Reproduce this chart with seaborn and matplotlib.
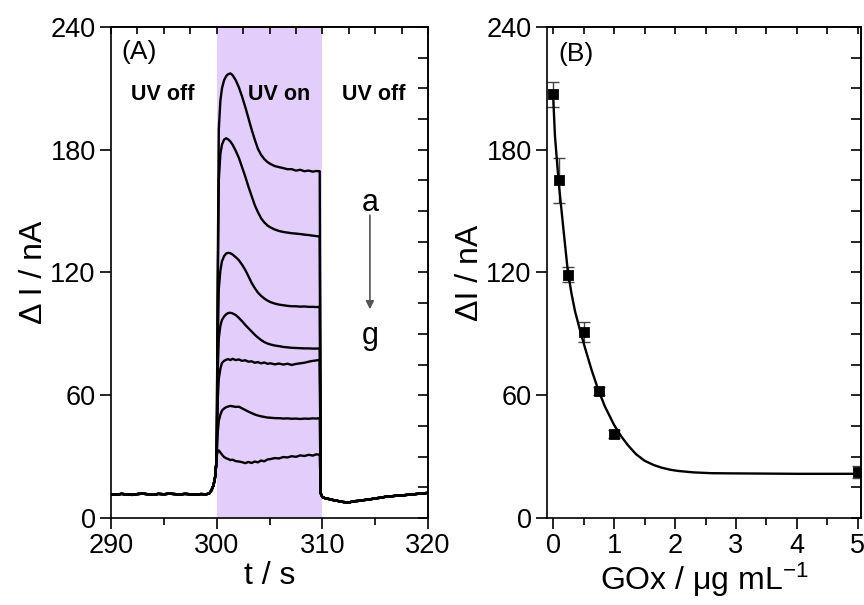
import matplotlib
matplotlib.use("Agg")
import matplotlib.pyplot as plt
from matplotlib.ticker import MultipleLocator, FixedLocator
import numpy as np
import pandas as pd
import seaborn as sns

# ---------------- data ----------------
curve_labels = ["a", "b", "c", "d", "e", "f", "g"]

# shared baseline before illumination
t_pre = [290, 290.5, 291, 291.5, 292, 292.5, 293, 293.5, 294, 294.5, 295, 295.5,
         296, 296.5, 297, 297.5, 298, 298.5, 299, 299.3, 299.5, 299.7, 299.85, 299.95]
i_pre = [11.6, 11.4, 11.8, 11.5, 11.3, 11.7, 11.9, 11.6, 11.4, 11.8, 11.6, 11.9,
         11.7, 11.5, 11.8, 11.6, 11.4, 11.7, 11.6, 12.0, 13.5, 16.0, 20.0, 26.0]

# UV on segment
t_on = [300.0, 300.1, 300.2, 300.35, 300.5, 300.7, 300.9, 301.1, 301.3, 301.5, 301.8,
        302.1, 302.4, 302.7, 303.0, 303.3, 303.6, 303.9, 304.2, 304.5, 304.8, 305.1,
        305.5, 305.9, 306.3, 306.7, 307.1, 307.5, 307.9, 308.3, 308.7, 309.1, 309.4, 309.75]
i_a = [35, 120, 190, 204, 210, 214, 216, 217, 217.3, 216.5, 214, 210.5, 206, 201, 195.5,
       190, 185, 180.5, 177.5, 175.5, 174, 173, 172, 171.5, 171, 170.5, 170.5, 169.8,
       170.2, 169.5, 169.8, 169.3, 169.6, 169.5]
i_b = [35, 110, 165, 178, 182.5, 185, 185.6, 185, 184, 182.5, 179.5, 176, 171.5, 167, 162,
       157.5, 153, 149.5, 146.5, 144.5, 143, 142, 141, 140.3, 139.8, 139.5, 139.2, 139,
       138.8, 138.5, 138.3, 138, 137.8, 137.6]
i_c = [33, 85, 112, 121, 125.5, 128, 129.3, 129.6, 129.4, 128.8, 127.5, 126, 123.8, 121.3,
       118.2, 115, 112.4, 110.2, 108.6, 107.3, 106.3, 105.5, 104.8, 104.3, 104, 103.7,
       103.5, 103.5, 103.3, 103.4, 103.2, 103.2, 103.1, 103.2]
i_d = [32, 72, 88, 94, 96.8, 98.5, 99.6, 100.2, 100.3, 100, 99.2, 97.8, 96.2, 94.4, 92.8,
       91.2, 89.6, 88.2, 87, 86, 85.3, 84.8, 84.3, 84, 83.6, 83.4, 83.2, 83.1, 83, 82.9,
       82.9, 82.8, 82.8, 82.9]
i_e = [31, 58, 68, 73, 75.8, 76.8, 77.4, 77.6, 77.2, 77.8, 77.2, 77.5, 76.8, 77.1, 76.4,
       76.6, 75.9, 76.2, 75.6, 76, 75.4, 75.6, 75.1, 75.5, 75.0, 75.4, 74.8, 75.3, 75.6,
       75.9, 76.4, 76.8, 77.0, 77.3]
i_f = [30, 42, 47.5, 50.5, 52.5, 53.5, 54.2, 54.5, 54.8, 54.6, 54.3, 54.4, 53.6, 52.8, 52,
       51.3, 50.6, 50.1, 49.7, 49.4, 49.1, 49, 48.8, 48.8, 48.6, 48.7, 48.5, 48.6, 48.4,
       48.6, 48.5, 48.7, 48.6, 48.8]
i_g = [30, 33, 33, 32, 31, 29.8, 29.2, 28.8, 28.3, 28.5, 27.8, 27.6, 27.3, 26.8, 27.4,
       26.9, 27.6, 27.2, 28.1, 27.7, 28.6, 28.8, 29.3, 29.1, 29.8, 29.6, 30.2, 29.9, 30.6,
       30.3, 30.9, 30.5, 31.1, 31.0]

# shared baseline after illumination
t_post = [309.85, 310.0, 310.3, 310.7, 311.0, 311.5, 312.0, 312.5, 313.0, 313.5, 314.0,
          314.5, 315.0, 315.5, 316.0, 316.5, 317.0, 317.5, 318.0, 318.5, 319.0, 319.5, 320.0]
i_post = [12.0, 10.2, 9.6, 9.2, 8.8, 8.3, 7.8, 7.6, 8.2, 8.4, 8.8, 9.1, 9.6, 9.9, 10.4,
          10.6, 10.9, 11.0, 11.3, 11.5, 11.8, 12.0, 12.3]

# panel B: points with error bars
gox = [0.0, 0.1, 0.25, 0.5, 0.75, 1.0, 5.0]
dI = [207, 165, 119, 91, 62, 41, 22.5]
dI_err = [6, 11, 3.5, 5, 2, 2, 3]

# fitted curve
fit_x = [0.0, 0.03, 0.09, 0.17, 0.24, 0.30, 0.36, 0.44, 0.52, 0.63, 0.74, 0.85, 1.0,
         1.12, 1.23, 1.36, 1.5, 1.65, 1.78, 1.92, 2.05, 2.3, 2.6, 3.0, 3.5, 4.0, 4.5, 5.0]
fit_y = [207, 187, 164.5, 141, 121, 110, 101, 92, 83.5, 72.5, 62.7, 54.5, 45.5,
         39.8, 35.5, 31.2, 28.0, 25.9, 24.6, 23.6, 23.0, 22.3, 21.9, 21.8, 21.7, 21.6,
         21.6, 21.6]

# ---------------- styling ----------------
sns.set_theme(style="ticks")
plt.rcParams["font.family"] = ["Liberation Sans", "DejaVu Sans"]
plt.rcParams["mathtext.fontset"] = "custom"
plt.rcParams["mathtext.rm"] = "Liberation Sans"
plt.rcParams["mathtext.it"] = "Liberation Sans:italic"
plt.rcParams["mathtext.bf"] = "Liberation Sans:bold"
plt.rcParams["axes.linewidth"] = 1.2
plt.rcParams["axes.edgecolor"] = "black"
plt.rcParams["text.color"] = "black"
plt.rcParams["axes.labelcolor"] = "black"
plt.rcParams["xtick.color"] = "black"
plt.rcParams["ytick.color"] = "black"

fig = plt.figure(figsize=(8.64, 6.05), dpi=100)
axA = fig.add_axes([0.1285, 0.1438, 0.3669, 0.8116])
axB = fig.add_axes([0.6331, 0.1438, 0.3634, 0.8116])

# ---------------- panel A ----------------
rows = []
on_vals = [i_a, i_b, i_c, i_d, i_e, i_f, i_g]
for lab, vals in zip(curve_labels, on_vals):
    ts = t_pre + t_on + t_post
    vs = i_pre + vals + i_post
    for t, v in zip(ts, vs):
        rows.append({"curve": lab, "t": t, "I": v})
dfA = pd.DataFrame(rows)

axA.axvspan(300, 310, color="#e3cdfa", lw=0, zorder=0)
sns.lineplot(data=dfA, x="t", y="I", units="curve", estimator=None, sort=False,
             color="black", lw=1.7, ax=axA, legend=False)

axA.set_xlim(290, 320)
axA.set_ylim(0, 240)
axA.set_xticks([290, 300, 310, 320])
axA.xaxis.set_minor_locator(MultipleLocator(5))
axA.set_yticks([0, 60, 120, 180, 240])
axA.tick_params(axis="both", which="major", direction="out", length=8, width=1.2,
                labelsize=19.5, colors="black", pad=3)
axA.tick_params(axis="x", which="minor", direction="out", length=5, width=1.2)
axA.set_xlabel("t / s", fontsize=23, labelpad=1)
axA.set_ylabel("Δ I / nA", fontsize=23, labelpad=1)

topA = axA.secondary_xaxis("top")
topA.xaxis.set_major_locator(FixedLocator(list(np.arange(290, 320.1, 2.5))))
topA.tick_params(direction="in", length=5, width=1.2, labeltop=False)
rightA = axA.secondary_yaxis("right")
rightA.yaxis.set_major_locator(FixedLocator(list(range(0, 241, 15))))
rightA.tick_params(direction="in", length=7, width=1.2, labelright=False)

axA.text(291.0, 228, "(A)", fontsize=19, ha="left", va="center")
axA.text(294.9, 207, "UV off", fontsize=15.5, fontweight="bold", ha="center", va="center")
axA.text(305.9, 207, "UV on", fontsize=15.5, fontweight="bold", ha="center", va="center")
axA.text(314.9, 207, "UV off", fontsize=15.5, fontweight="bold", ha="center", va="center")
axA.text(314.5, 154, "a", fontsize=22, ha="center", va="center")
axA.text(314.5, 89, "g", fontsize=22, ha="center", va="center")
axA.annotate("", xy=(314.5, 102), xytext=(314.5, 148),
             arrowprops=dict(arrowstyle="-|>", color="#555555", lw=1.2,
                             mutation_scale=12, shrinkA=0, shrinkB=0))

# ---------------- panel B ----------------
axB.errorbar(gox, dI, yerr=dI_err, fmt="none", ecolor="#444444", elinewidth=1.0,
             capsize=4, capthick=1.0, zorder=2)
sns.lineplot(x=fit_x, y=fit_y, color="black", lw=1.7, ax=axB, zorder=3)
sns.scatterplot(x=gox, y=dI, marker="s", s=50, color="black", edgecolor="black",
                ax=axB, zorder=4)

axB.set_xlim(-0.1, 5.05)
axB.set_ylim(0, 240)
axB.set_xticks([0, 1, 2, 3, 4, 5])
axB.xaxis.set_minor_locator(MultipleLocator(0.5))
axB.set_yticks([0, 60, 120, 180, 240])
axB.tick_params(axis="both", which="major", direction="out", length=8, width=1.2,
                labelsize=19.5, colors="black", pad=3)
axB.tick_params(axis="x", which="minor", direction="out", length=5, width=1.2)
axB.set_xlabel("GOx / μg mL$^{-1}$", fontsize=23, labelpad=1)
axB.set_ylabel("ΔI / nA", fontsize=23, labelpad=1)

topB = axB.secondary_xaxis("top")
topB.xaxis.set_major_locator(FixedLocator(list(np.arange(0, 5.01, 0.5))))
topB.tick_params(direction="in", length=5, width=1.2, labeltop=False)
rightB = axB.secondary_yaxis("right")
rightB.yaxis.set_major_locator(FixedLocator(list(range(0, 241, 15))))
rightB.tick_params(direction="in", length=7, width=1.2, labelright=False)

axB.text(0.08, 227, "(B)", fontsize=19, ha="left", va="center")

for ax in (axA, axB):
    for s in ax.spines.values():
        s.set_color("black")
        s.set_linewidth(1.2)

fig.savefig("out.png", dpi=100)
